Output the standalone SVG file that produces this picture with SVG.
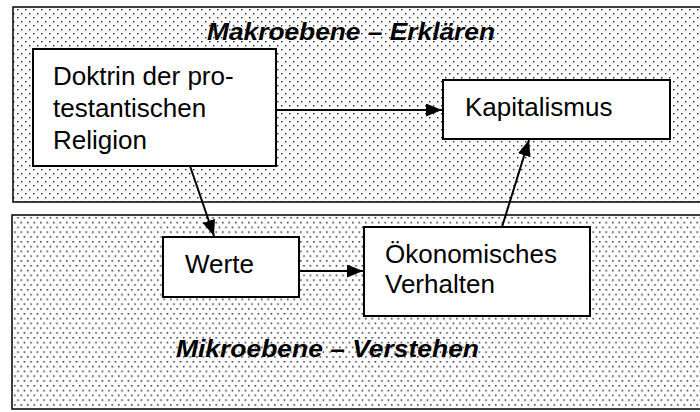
<svg xmlns="http://www.w3.org/2000/svg" width="700" height="412" viewBox="0 0 700 412">
  <defs>
    <!-- sparse dot fill for the macro level -->
    <pattern id="dotsSparse" x="0" y="0" width="8" height="8" patternUnits="userSpaceOnUse">
      <rect x="0" y="0" width="8" height="8" fill="#ffffff"/>
      <rect x="1" y="1" width="1.4" height="1.4" fill="#222"/>
      <rect x="5" y="5" width="1.4" height="1.4" fill="#222"/>
    </pattern>
    <!-- denser dot fill for the micro level -->
    <pattern id="dotsDense" x="0" y="0" width="6.5" height="9.6" patternUnits="userSpaceOnUse">
      <rect x="0" y="0" width="6.5" height="9.6" fill="#ffffff"/>
      <rect x="1" y="1" width="1.5" height="1.5" fill="#222"/>
      <rect x="4.25" y="5.8" width="1.5" height="1.5" fill="#222"/>
    </pattern>
    <marker id="arrow" viewBox="0 0 16 13" refX="16" refY="6.5" markerWidth="16" markerHeight="13" markerUnits="userSpaceOnUse" orient="auto">
      <path d="M0,0 L16,6.5 L0,13 Z" fill="#000"/>
    </marker>
    <style>
      .panel { stroke: #000; stroke-width: 1.5; }
      .box { fill: #fff; stroke: #000; stroke-width: 2; }
      .label { font-family: "Liberation Sans", Arial, sans-serif; font-size: 26px; fill: #000; }
      .level { font-family: "Liberation Sans", Arial, sans-serif; font-size: 24px; font-weight: bold; font-style: italic; fill: #000; }
      .conn { stroke: #000; stroke-width: 2; fill: none; marker-end: url(#arrow); }
    </style>
  </defs>

  <rect width="700" height="412" fill="#fff"/>

  <!-- macro level -->
  <g id="macro-level">
    <rect class="panel" x="13" y="7" width="700" height="195" fill="url(#dotsSparse)"/>
    <text class="level" x="207" y="40" textLength="288" lengthAdjust="spacingAndGlyphs">Makroebene – Erklären</text>
  </g>

  <!-- micro level -->
  <g id="micro-level">
    <rect class="panel" x="12" y="215" width="700" height="194" fill="url(#dotsDense)"/>
    <text class="level" x="176" y="357" textLength="303" lengthAdjust="spacingAndGlyphs">Mikroebene – Verstehen</text>
  </g>

  <g id="node-doktrin">
    <rect class="box" x="33" y="49" width="243" height="117"/>
    <text class="label" x="53" y="85">Doktrin der pro-</text>
    <text class="label" x="53" y="117">testantischen</text>
    <text class="label" x="53" y="149">Religion</text>
  </g>

  <g id="node-kapitalismus">
    <rect class="box" x="443" y="80" width="227" height="59"/>
    <text class="label" x="465" y="116">Kapitalismus</text>
  </g>

  <g id="node-werte">
    <rect class="box" x="163" y="237" width="136" height="60"/>
    <text class="label" x="185" y="273">Werte</text>
  </g>

  <g id="node-verhalten">
    <rect class="box" x="364" y="227" width="226" height="89"/>
    <text class="label" x="385" y="263">Ökonomisches</text>
    <text class="label" x="385" y="293">Verhalten</text>
  </g>

  <g id="connectors">
    <line class="conn" x1="276" y1="110" x2="442" y2="110"/>
    <line class="conn" x1="190" y1="166" x2="214" y2="236"/>
    <line class="conn" x1="299" y1="271" x2="363" y2="271"/>
    <line class="conn" x1="502" y1="227" x2="529" y2="140"/>
  </g>
</svg>
